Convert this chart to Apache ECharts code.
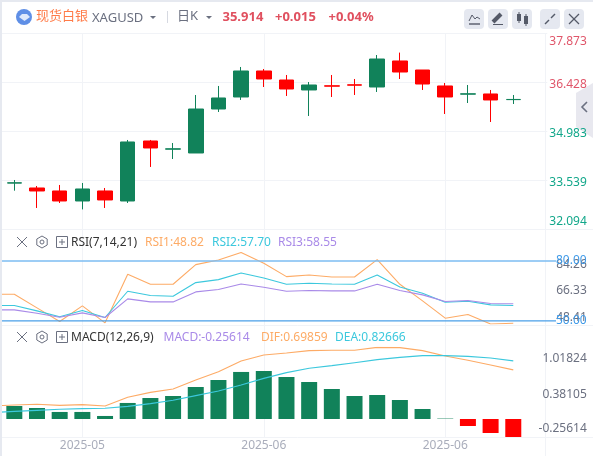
<!DOCTYPE html>
<html>
<head>
<meta charset="utf-8">
<title>XAGUSD</title>
<script src="https://cdn.jsdelivr.net/npm/echarts@6/dist/echarts.min.js"></script>
<style>
  html, body { margin: 0; padding: 0; background: #fff; overflow: hidden; }
  /* canvas starts left of the window so the off-screen first bar has room */
  #chart { position: absolute; left: -20px; top: 0; width: 613px; height: 456px; }
</style>
</head>
<body>
<div id="chart"></div>
<script>
// first entry sits just off the left edge, only the indicator lines reach in from it
var categories = ['', '', '', '', '2025-05', '', '', '', '', '', '', '', '2025-06', '', '', '', '', '', '', '', '2025-06', '', '', '', ''];

// open, close, low, high
var candles = [
  ['-', '-', '-', '-'],
  [33.447, 33.456, 33.224, 33.539],
  [33.303, 33.215, 32.714, 33.362],
  [33.215, 32.920, 32.861, 33.392],
  [32.920, 33.274, 32.672, 33.451],
  [33.215, 32.950, 32.714, 33.303],
  [32.920, 34.660, 32.861, 34.719],
  [34.689, 34.483, 33.923, 34.719],
  [34.448, 34.458, 34.158, 34.630],
  [34.335, 35.632, 34.335, 36.045],
  [35.632, 35.957, 35.544, 36.311],
  [35.986, 36.753, 35.898, 36.871],
  [36.753, 36.517, 36.281, 36.812],
  [36.487, 36.222, 36.016, 36.635],
  [36.193, 36.340, 35.426, 36.428],
  [36.316, 36.306, 35.986, 36.635],
  [36.345, 36.335, 36.045, 36.517],
  [36.281, 37.106, 36.134, 37.224],
  [37.048, 36.723, 36.517, 37.295],
  [36.782, 36.369, 36.193, 36.782],
  [36.311, 35.986, 35.485, 36.399],
  [36.070, 36.080, 35.809, 36.340],
  [36.075, 35.898, 35.249, 36.193],
  [35.909, 35.914, 35.780, 36.045]
];

var rsi1 = [63.33, 63.33, 56.50, 49.67, 57.50, 49.00, 73.33, 68.33, 68.33, 78.17, 80.50, 84.26, 78.83, 72.17, 73.00, 72.00, 72.00, 80.67, 68.33, 60.00, 51.33, 53.17, 48.41, 48.82];
var rsi2 = [57.67, 57.67, 55.00, 52.00, 55.17, 51.67, 64.83, 62.67, 62.33, 69.17, 70.67, 74.00, 71.50, 68.33, 68.83, 68.50, 68.33, 73.00, 67.00, 63.83, 59.33, 59.83, 58.00, 57.70];
var rsi3 = [55.50, 55.50, 53.83, 51.83, 54.00, 51.67, 61.00, 59.50, 59.50, 64.50, 65.67, 68.50, 66.83, 64.83, 65.17, 65.00, 65.00, 68.33, 65.17, 63.00, 59.67, 60.17, 58.67, 58.55];

var macdBars = ['-', 0.185, 0.156, 0.100, 0.100, 0.043, 0.228, 0.299, 0.327, 0.455, 0.555, 0.669, 0.683, 0.597, 0.526, 0.427, 0.327, 0.341, 0.270, 0.142, 0.006, -0.100, -0.199, -0.25614];
var dif = [0.185, 0.199, 0.209, 0.194, 0.204, 0.185, 0.308, 0.379, 0.427, 0.555, 0.673, 0.825, 0.910, 0.939, 0.972, 0.977, 0.977, 1.01824, 1.015, 0.972, 0.896, 0.835, 0.768, 0.69859];
var dea = [0.090, 0.109, 0.123, 0.138, 0.147, 0.152, 0.180, 0.218, 0.266, 0.332, 0.398, 0.484, 0.578, 0.659, 0.721, 0.759, 0.801, 0.844, 0.877, 0.901, 0.901, 0.891, 0.868, 0.82666];

var priceTicks = [32.094, 33.539, 34.983, 36.428, 37.873];
var rsiTicks = [48.41, 66.33, 84.26];
var macdTicks = [-0.25614, 0.38105, 1.01824];

var GREEN = '#11825a', RED = '#ff0000';
var ORANGE = '#fdab66', CYAN = '#3cc8dd', PURPLE = '#a98ae8';
var FONT = '"Noto Sans", "Noto Sans CJK SC", sans-serif';
var GRID_COLOR = '#f1f3f7';
var ICON = '#6b7080';

var gridLeft = 0.3, gridWidth = 567;

function txt(x, y, text, color, size, weight) {
  return {
    type: 'text', z: 110, x: x, y: y,
    style: { text: text, fill: color, fontSize: size || 12, fontWeight: weight || 'normal', fontFamily: FONT, verticalAlign: 'middle' }
  };
}
function seg(x1, y1, x2, y2, color, w, z) {
  return { type: 'line', z: z || 110, shape: { x1: x1, y1: y1, x2: x2, y2: y2 }, style: { stroke: color, lineWidth: w || 1 } };
}
function caret(x, y) {
  return { type: 'polygon', z: 110, shape: { points: [[x - 3, y - 1.5], [x + 3, y - 1.5], [x, y + 1.5]] }, style: { fill: ICON } };
}

// the close / settings / expand icons in front of each indicator
function paneIcons(y) {
  var hex = [];
  for (var i = 0; i < 6; i++) {
    var a = Math.PI / 3 * i + Math.PI / 6;
    hex.push([42 + 6 * Math.cos(a), y + 6 * Math.sin(a)]);
  }
  return [
    seg(17, y - 5, 27, y + 5, ICON), seg(27, y - 5, 17, y + 5, ICON),
    { type: 'polygon', z: 110, shape: { points: hex }, style: { fill: 'none', stroke: ICON, lineWidth: 1 } },
    { type: 'circle', z: 110, shape: { cx: 42, cy: y, r: 2 }, style: { fill: 'none', stroke: ICON, lineWidth: 1 } },
    { type: 'rect', z: 110, shape: { x: 56.5, y: y - 5.5, width: 11, height: 11 }, style: { fill: 'none', stroke: ICON, lineWidth: 1 } },
    seg(59, y, 65, y, ICON), seg(62, y - 3, 62, y + 3, ICON)
  ];
}

var graphics = [
  // page frame around the white card
  { type: 'rect', z: 100, shape: { x: -20, y: 0, width: 22, height: 456 }, style: { fill: '#e6e9f0' } },
  { type: 'rect', z: 100, shape: { x: 0, y: 0, width: 593, height: 2 }, style: { fill: '#e6e9f0' } },
  // pane separators, under the tick labels
  seg(2, 33.5, 545, 33.5, GRID_COLOR, 1, -1), seg(2, 229.5, 593, 229.5, GRID_COLOR, 1, -1),
  seg(2, 325.5, 593, 325.5, GRID_COLOR, 1, -1), seg(2, 437.5, 593, 437.5, GRID_COLOR, 1, -1),
  seg(545.5, 33, 545.5, 456, GRID_COLOR, 1, -1),
  // header
  { type: 'circle', z: 110, shape: { cx: 24, cy: 17, r: 8 }, style: { fill: '#5f8fe6' } },
  { type: 'polygon', z: 110, shape: { points: [[19, 17], [22, 14], [27, 14], [30, 17], [24.5, 21]] }, style: { fill: '#dfe9fb' } },
  txt(36, 16.5, '现货白银', '#ff7b48', 13),
  txt(92, 18, 'XAGUSD', '#6b7080', 13),
  caret(153, 17.5),
  seg(167.5, 11, 167.5, 23, '#d6d9e1'),
  txt(177, 16, '日K', '#6b7080', 13),
  caret(209, 17.5),
  txt(222.5, 17, '35.914', '#e0505f', 13, 'bold'),
  txt(275, 17, '+0.015', '#e0505f', 13, 'bold'),
  txt(328.5, 17, '+0.04%', '#e0505f', 13, 'bold'),
  // collapse tab on the right
  { type: 'polygon', z: -1, shape: { points: [[593, 83], [576, 93], [576, 127], [593, 138]] }, style: { fill: '#e8e8ef' } },
  { type: 'polyline', z: 121, shape: { points: [[587, 102], [582, 107], [587, 112]] }, style: { stroke: ICON, fill: 'none', lineWidth: 1.6 } },
  // indicator headers
  txt(71, 243, 'RSI(7,14,21)', '#333', 12),
  txt(145, 243, 'RSI1:48.82', ORANGE, 12),
  txt(212, 243, 'RSI2:57.70', CYAN, 12),
  txt(278, 243, 'RSI3:58.55', PURPLE, 12),
  txt(71, 337.5, 'MACD(12,26,9)', '#333', 12),
  txt(163.5, 337.5, 'MACD:-0.25614', PURPLE, 12),
  txt(261, 337.5, 'DIF:0.69859', ORANGE, 12),
  txt(335, 337.5, 'DEA:0.82666', CYAN, 12)
].concat(paneIcons(242), paneIcons(337));

// toolbar buttons
[464, 488, 512, 540, 564].forEach(function (x) {
  graphics.push({ type: 'rect', z: 105, shape: { x: x, y: 9, width: 20, height: 20, r: 4 }, style: { fill: '#e5e8f0' } });
});
graphics.push(
  { type: 'polyline', z: 110, shape: { points: [[469, 21], [472, 15], [475, 19], [477, 17], [480, 19]] }, style: { stroke: '#555a68', fill: 'none', lineWidth: 1 } },
  seg(469, 24, 480, 24, '#555a68', 1.4),
  seg(493, 22, 501, 14, '#555a68', 4),
  seg(493, 24.5, 503, 24.5, '#555a68', 1),
  { type: 'rect', z: 110, shape: { x: 517, y: 14, width: 4, height: 7 }, style: { fill: '#555a68' } },
  seg(519, 12, 519, 23, '#555a68'),
  { type: 'rect', z: 110, shape: { x: 524, y: 16, width: 4, height: 8 }, style: { fill: '#555a68' } },
  seg(526, 14, 526, 26, '#555a68'),
  seg(545, 24, 549, 20, '#555a68', 1.4), seg(551, 18, 555, 14, '#555a68', 1.4),
  seg(569, 14, 579, 24, '#555a68', 1.2), seg(579, 14, 569, 24, '#555a68', 1.2)
);

function hiddenX(idx) {
  return { type: 'category', gridIndex: idx, data: categories, boundaryGap: true, show: false };
}
function lineSeries(name, data, color, axis) {
  return {
    name: name, type: 'line', xAxisIndex: axis, yAxisIndex: axis, data: data,
    symbol: 'none', lineStyle: { color: color, width: 1.1 }, itemStyle: { color: color }, z: 4
  };
}
function levelLine(level, color, width) {
  return {
    type: 'line', xAxisIndex: 4, yAxisIndex: 4, data: [[0, level], [1, level]], symbol: 'none', z: 5,
    clip: false, lineStyle: { color: color, width: width },
    endLabel: { show: true, formatter: level.toFixed(2), color: '#3f9ae8', fontSize: 12, fontFamily: FONT, distance: 0 }
  };
}
// tick labels sit a little below their level, the end ones pulled inside the pane.
// text is centred in its box so padding moves it by half the amount
function yLabel(color, ticks, digits, topDown, midDown, botUp) {
  var lo = ticks[0], hi = ticks[ticks.length - 1];
  return {
    color: color, fontSize: 12, fontFamily: FONT, align: 'right', margin: 39.5,
    customValues: ticks,
    formatter: function (v) {
      var key = Math.abs(v - lo) < 0.001 ? 'bot' : Math.abs(v - hi) < 0.001 ? 'top' : 'mid';
      return '{' + key + '|' + v.toFixed(digits) + '}';
    },
    rich: {
      top: { padding: [topDown * 2, 0, 0, 0] },
      mid: { padding: [midDown * 2, 0, 0, 0] },
      bot: { padding: [0, 0, botUp * 2, 0] }
    }
  };
}

var chart = echarts.init(document.getElementById('chart'), null, { renderer: 'canvas' });

var priceLabel = yLabel(function (v) { return v > 36 ? '#e0566a' : '#12a78a'; }, priceTicks, 3, 9, 3, 7.5);
delete priceLabel.customValues; // this axis takes its ticks from interval so the grid lines follow

chart.setOption({
  animation: false,
  backgroundColor: '#fff',
  graphic: { elements: [{ type: 'group', x: 20, y: 0, children: graphics }] },
  grid: [
    { left: gridLeft, width: gridWidth, top: 33, height: 196 },
    { left: gridLeft, width: gridWidth, top: 252.5, height: 71.5 },
    { left: gridLeft, width: gridWidth, top: 347.4, height: 89.6 },
    { left: gridLeft, width: gridWidth, top: 33, height: 404 },
    { left: 22, width: 554, top: 252.5, height: 71.5 }
  ],
  xAxis: [
    hiddenX(0), hiddenX(1), hiddenX(2),
    {
      type: 'category', gridIndex: 3, data: categories, boundaryGap: true,
      axisLine: { show: false }, axisTick: { show: false },
      axisLabel: { interval: 0, color: '#a9adbb', fontSize: 12, fontFamily: FONT, margin: 3 },
      splitLine: {
        show: true, alignWithLabel: true, lineStyle: { color: GRID_COLOR },
        interval: function (i, v) { return v !== ''; }
      }
    },
    { type: 'value', gridIndex: 4, min: 0, max: 1, show: false }
  ],
  yAxis: [
    {
      type: 'value', gridIndex: 0, position: 'right', min: priceTicks[0], max: priceTicks[4],
      interval: (priceTicks[4] - priceTicks[0]) / 4,
      axisLine: { show: false }, axisTick: { show: false },
      splitLine: { show: true, lineStyle: { color: GRID_COLOR } },
      axisLabel: priceLabel
    },
    {
      type: 'value', gridIndex: 1, position: 'right', min: rsiTicks[0], max: rsiTicks[2],
      axisLine: { show: false }, axisTick: { show: false }, splitLine: { show: false },
      axisLabel: yLabel('#6b7080', rsiTicks, 2, 12.5, 2.5, 6)
    },
    {
      type: 'value', gridIndex: 2, position: 'right', min: macdTicks[0], max: macdTicks[2],
      axisLine: { show: false }, axisTick: { show: false }, splitLine: { show: false },
      axisLabel: yLabel('#6b7080', macdTicks, 5, 11.5, 2.5, 8)
    },
    { type: 'value', gridIndex: 3, min: 0, max: 1, show: false },
    { type: 'value', gridIndex: 4, min: rsiTicks[0], max: rsiTicks[2], show: false }
  ],
  series: [
    {
      type: 'candlestick', xAxisIndex: 0, yAxisIndex: 0, data: candles, barWidth: 15,
      itemStyle: { color: GREEN, color0: RED, borderColor: GREEN, borderColor0: RED, borderWidth: 1 },
      markPoint: {
        symbol: 'none', silent: true,
        data: [
          { coord: [18, 37.295], label: { position: 'left', distance: 0, offset: [0, 2], formatter: '37.295 ····' } },
          { coord: [4, 32.672], label: { position: 'right', distance: 0, offset: [0, 2], formatter: '···· 32.672' } }
        ],
        label: { show: true, color: '#6b7080', fontSize: 12, fontFamily: FONT }
      }
    },
    lineSeries('RSI1', rsi1, ORANGE, 1),
    lineSeries('RSI2', rsi2, CYAN, 1),
    lineSeries('RSI3', rsi3, PURPLE, 1),
    {
      type: 'bar', name: 'MACD', xAxisIndex: 2, yAxisIndex: 2, data: macdBars, barWidth: 16,
      itemStyle: { color: function (p) { return p.value >= 0 ? GREEN : RED; } }
    },
    lineSeries('DIF', dif, ORANGE, 2),
    lineSeries('DEA', dea, CYAN, 2),
    levelLine(80, '#7cbcf2', 1.6),
    levelLine(50, '#4a9fe8', 1.2)
  ]
});
</script>
</body>
</html>
